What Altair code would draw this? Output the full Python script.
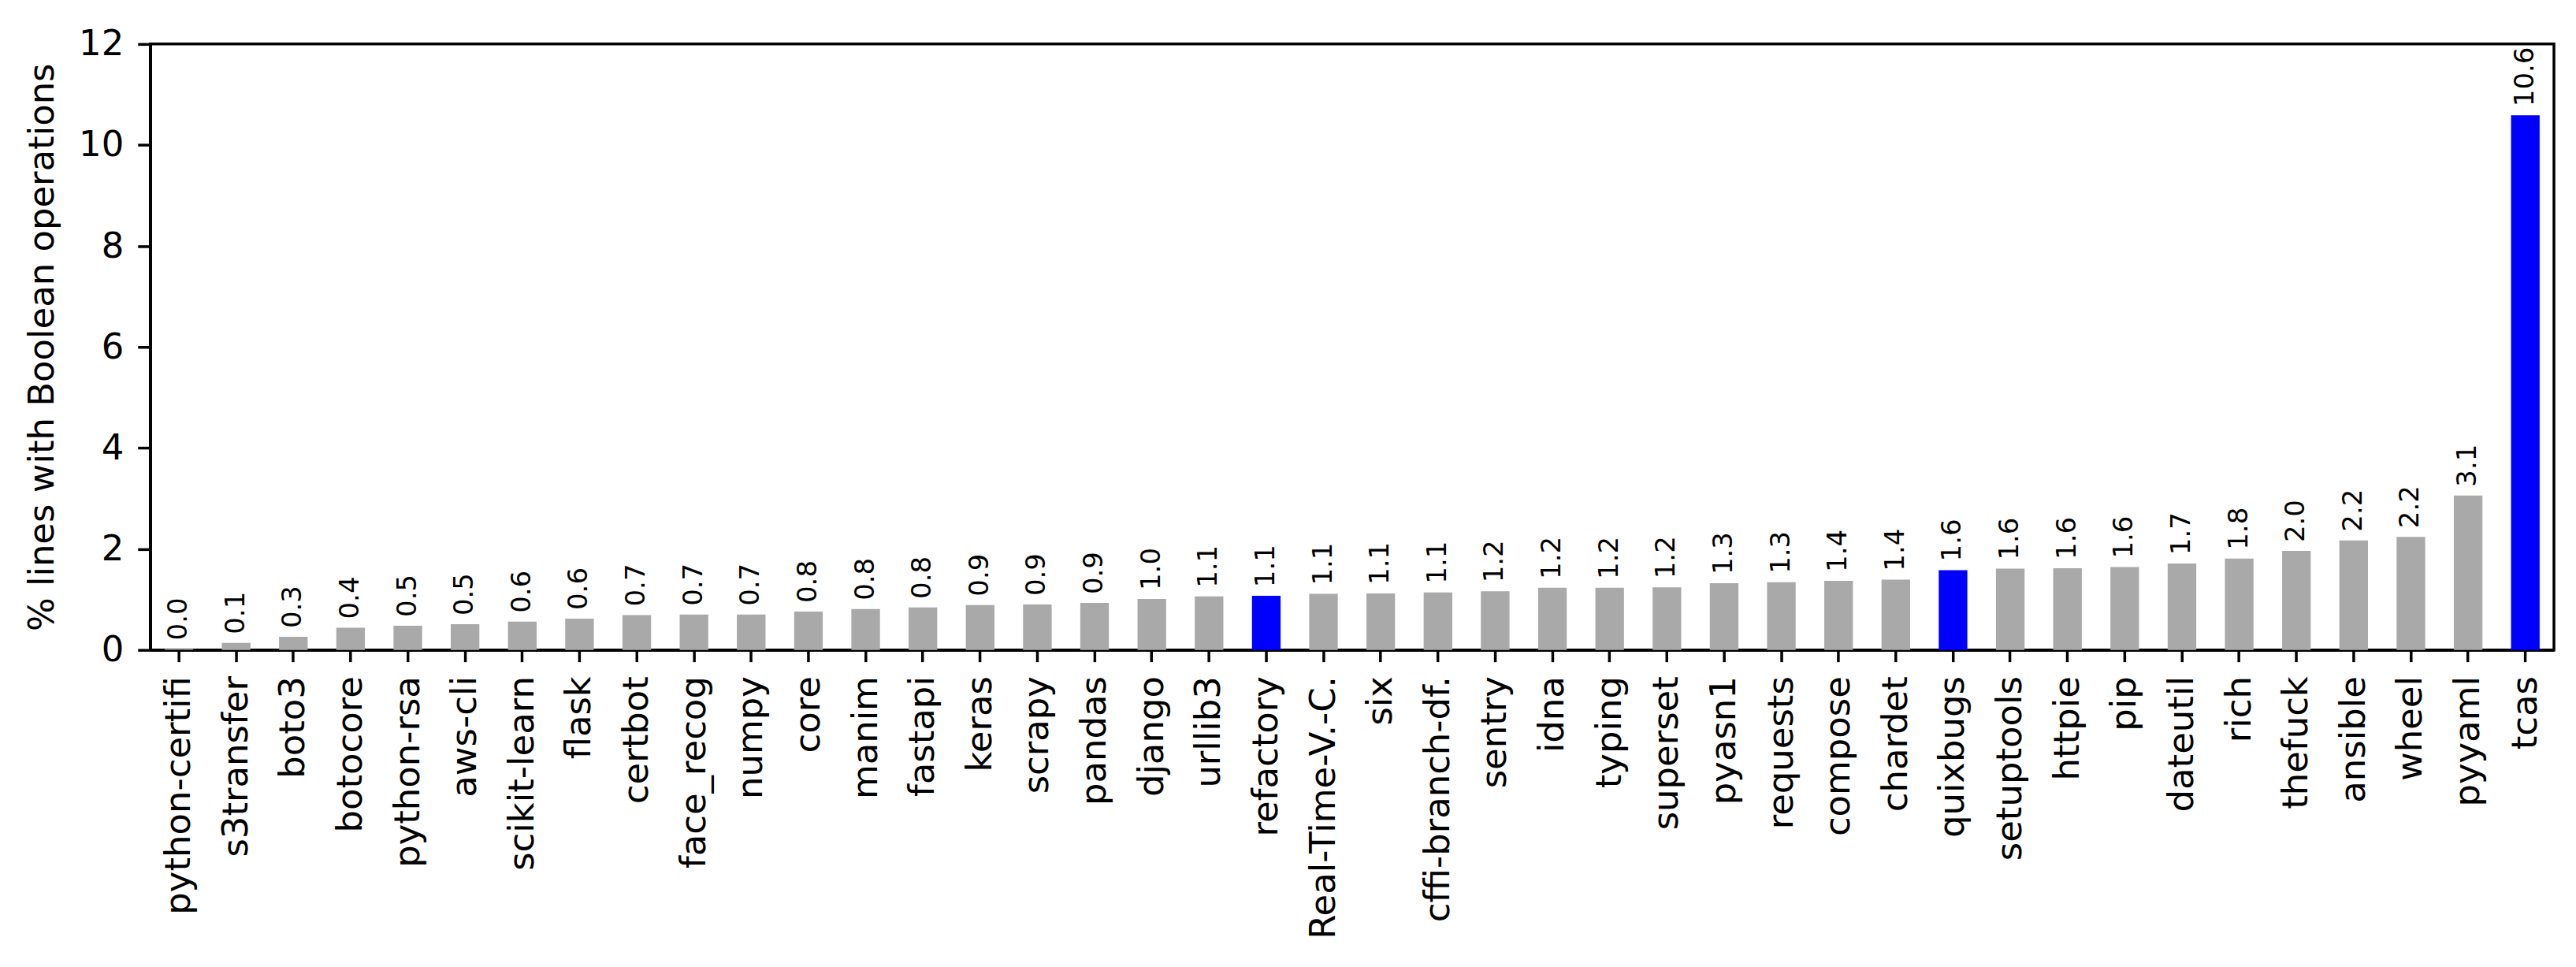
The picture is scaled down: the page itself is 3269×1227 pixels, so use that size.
import altair as alt
import pandas as pd

projects = [
    "python-certifi", "s3transfer", "boto3", "botocore", "python-rsa", "aws-cli",
    "scikit-learn", "flask", "certbot", "face_recog", "numpy", "core", "manim",
    "fastapi", "keras", "scrapy", "pandas", "django", "urllib3", "refactory",
    "Real-Time-V.-C.", "six", "cffi-branch-df.", "sentry", "idna", "typing",
    "superset", "pyasn1", "requests", "compose", "chardet", "quixbugs",
    "setuptools", "httpie", "pip", "dateutil", "rich", "thefuck", "ansible",
    "wheel", "pyyaml", "tcas",
]
percent = [
    0.02, 0.14, 0.26, 0.44, 0.48, 0.51,
    0.56, 0.62, 0.69, 0.70, 0.70, 0.76, 0.81,
    0.84, 0.89, 0.90, 0.93, 1.01, 1.06, 1.07,
    1.11, 1.12, 1.14, 1.16, 1.23, 1.23,
    1.24, 1.32, 1.34, 1.37, 1.39, 1.58,
    1.61, 1.62, 1.64, 1.71, 1.81, 1.96, 2.17,
    2.24, 3.06, 10.59,
]
highlighted = ["refactory", "quixbugs", "tcas"]
y_ticks = [0, 2, 4, 6, 8, 10, 12]

df = pd.DataFrame({"project": projects, "pct": percent})
df["group"] = ["highlight" if p in highlighted else "other" for p in projects]

FONT = "DejaVu Sans"

x_enc = alt.X(
    "project:N",
    sort=projects,
    title=None,
    scale=alt.Scale(paddingInner=0.5, paddingOuter=0.25),
    axis=alt.Axis(
        labelAngle=270,
        labelFontSize=45,
        labelFont=FONT,
        labelColor="black",
        tickSize=15,
        tickWidth=3.5,
        tickColor="black",
        domainWidth=3.5,
        domainColor="black",
        labelPadding=18,
        labelLimit=0,
    ),
)
y_enc = alt.Y(
    "pct:Q",
    scale=alt.Scale(domain=[0, 12], nice=False),
    axis=alt.Axis(
        values=y_ticks,
        format="d",
        title="% lines with Boolean operations",
        titleFont=FONT,
        titleFontSize=45,
        titleFontWeight="normal",
        titleColor="black",
        titleAngle=270,
        titleX=-137,
        titleY=385,
        titleAlign="center",
        titleBaseline="middle",
        labelFontSize=45,
        labelFont=FONT,
        labelColor="black",
        tickSize=16,
        tickWidth=3.5,
        tickColor="black",
        domainWidth=3.5,
        domainColor="black",
        labelPadding=18,
        grid=False,
    ),
)

bars = alt.Chart(df).mark_bar().encode(
    x=x_enc,
    y=y_enc,
    color=alt.Color(
        "group:N",
        scale=alt.Scale(domain=["highlight", "other"], range=["#0000ff", "#a9a9a9"]),
        legend=None,
    ),
)

labels = alt.Chart(df).mark_text(
    angle=270, align="left", baseline="middle", dx=11, font=FONT, fontSize=34, color="black"
).encode(
    x=alt.X("project:N", sort=projects),
    y=alt.Y("pct:Q"),
    text=alt.Text("pct:Q", format=".1f"),
)

chart = (
    alt.layer(bars, labels)
    .properties(
        width=3055,
        height=770,
        autosize=alt.AutoSizeParams(type="none"),
        padding={"left": 183, "top": 47, "right": 20, "bottom": 395},
        background="white",
    )
    .configure_view(stroke="black", strokeWidth=3.5)
)

chart.save("out.html", embed_options={"renderer": "svg", "actions": False})
